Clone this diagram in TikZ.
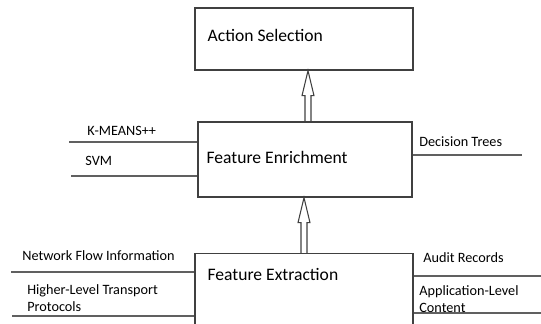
\documentclass[tikz,border=0pt]{standalone}
\usepackage{fontspec}
\setmainfont{Carlito}
\usetikzlibrary{positioning,calc}
\definecolor{boxc}{RGB}{64,64,64}
\definecolor{linec}{RGB}{96,96,96}

% hollow block arrow: #1 foot, #2 tip (same x)
\newcommand{\hollowarrow}[2]{%
  \draw[arr] ($(#1)+(-0.06,0)$) -- ($(#2)+(-0.06,-0.5)$) -- ($(#2)+(-0.12,-0.5)$) -- (#2)
    -- ($(#2)+(0.12,-0.5)$) -- ($(#2)+(0.06,-0.5)$) -- ($(#1)+(0.06,0)$);}

\begin{document}
\begin{tikzpicture}
\tikzstyle{blk}=[draw=boxc, line width=0.8pt, inner sep=0pt];
\tikzstyle{big}=[anchor=west, inner sep=0pt, font=\fontsize{10}{12}\selectfont];
\tikzstyle{small}=[anchor=west, inner sep=0pt, align=left, font=\fontsize{8.1}{9.7}\selectfont];
\tikzstyle{feat}=[draw=linec, line width=0.6pt];
\tikzstyle{arr}=[draw=boxc, line width=0.6pt];

\clip (0,0) rectangle (10.82,6.48);

% boxes
\node[blk, minimum width=4.36cm, minimum height=1.24cm] (act) at (6.08,5.70) {};
\node[blk, minimum width=4.28cm, minimum height=1.5cm] (enr) at (6.10,3.29) {};
\node[blk, minimum width=4.36cm, minimum height=1.8cm, anchor=north] (ext) at (6.08,1.42) {};

\node[big] (actlbl) at ([xshift=0.26cm,yshift=0.08cm]act.west) {Action Selection};
\node[big] (enrlbl) at ([xshift=0.18cm,yshift=0.05cm]enr.west) {Feature Enrichment};
\node[big] (extlbl) at ([xshift=0.26cm,yshift=-0.42cm]ext.north west) {Feature Extraction};

% arrows
\coordinate (a1) at ([xshift=0.08cm]act.south);
\hollowarrow{a1 |- enr.north}{a1}
\coordinate (a2) at (enr.south -| ext.north);
\hollowarrow{ext.north}{a2}

% inputs
\coordinate (km) at (1.38,3.64);
\coordinate (svm) at (1.42,2.96);
\coordinate (dt) at (10.44,3.38);
\coordinate (nf) at (0.22,1.04);
\coordinate (hl) at (0.24,0.16);
\coordinate (ar) at (10.82,0.96);
\coordinate (al) at (10.82,0.22);

\draw[feat] (km) -- (km -| enr.west);
\draw[feat] (svm) -- (svm -| enr.west);
\draw[feat] (enr.east |- dt) -- (dt);
\draw[feat] (nf) -- (nf -| ext.west);
\draw[feat] (hl) -- (hl -| ext.west);
\draw[feat] (ext.east |- ar) -- (ar);
\draw[feat] (ext.east |- al) -- (al);

\node[small] (kmlbl) at (1.74,3.86) {K-MEANS++};
\node[small] (svmlbl) at (1.70,3.26) {SVM};
\node[small] (dtlbl) at (8.38,3.64) {Decision Trees};
\node[small] (nflbl) at (0.44,1.36) {Network Flow Information};
\node[small] (hllbl) at (0.54,0.52) {Higher-Level Transport\\Protocols};
\node[small] (arlbl) at (8.46,1.32) {Audit Records};
\node[small] (allbl) at (8.38,0.50) {Application-Level\\Content};

\end{tikzpicture}
\end{document}
